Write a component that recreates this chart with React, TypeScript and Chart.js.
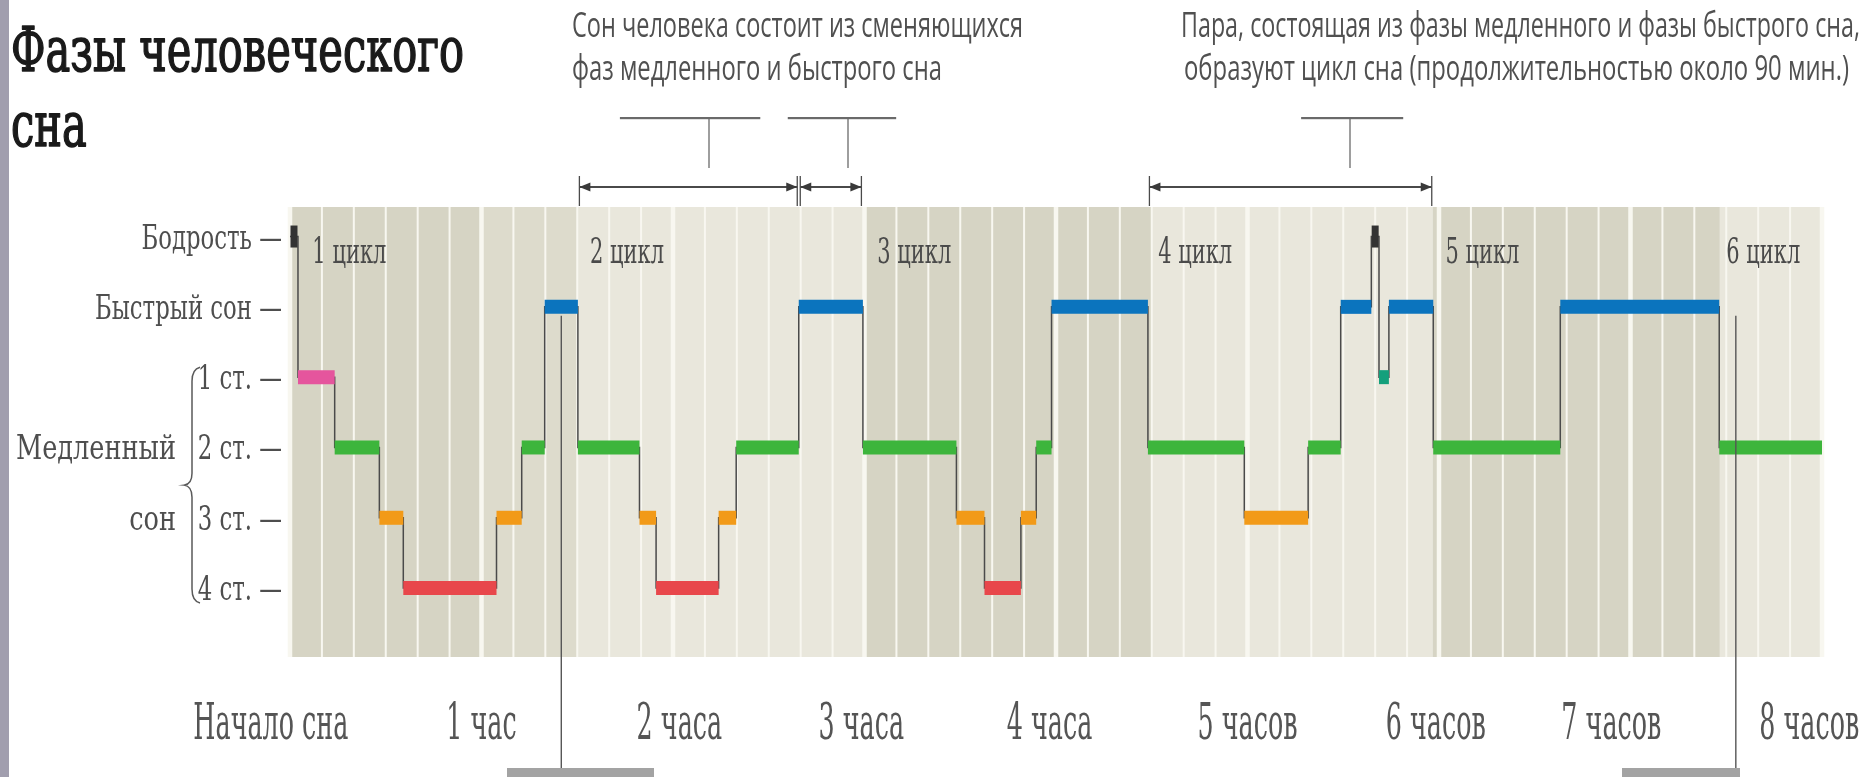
import React, { useEffect, useRef } from "react";
import { Chart, registerables } from "chart.js";

Chart.register(...registerables);

// ---------------- data ----------------
// level on the vertical scale: 5 = wake, 4 = REM, 3..0 = NREM stage 1..4
const stageLevel: Record<string, number> = { W: 5, REM: 4, N1: 3, N1b: 3, N2: 2, N3: 1, N4: 0 };
const stageColor: Record<string, string> = {
  W: "#333333",
  REM: "#0b74be",
  N1: "#e5559d",
  N1b: "#14a07c",
  N2: "#3db53c",
  N3: "#f29a18",
  N4: "#e8474b",
};

// start minute of each stage segment (sleep lasts 0..480 min)
const segmentStarts = [
  0, 2.5, 14, 28, 35.5, 64.7, 72.6, 79.8,
  90.2, 109.5, 114.7, 134.3, 139.8, 159.4,
  179.5, 208.8, 217.6, 229, 233.8, 238.6,
  268.8, 299, 319, 329.2, 338.8, 341.2, 344.3,
  358.2, 398, 447.8,
];
const segmentStages = [
  "W", "N1", "N2", "N3", "N4", "N3", "N2", "REM",
  "N2", "N3", "N4", "N3", "N2", "REM",
  "N2", "N3", "N4", "N3", "N2", "REM",
  "N2", "N3", "N2", "REM", "W", "N1b", "REM",
  "N2", "REM", "N2",
];
const sleepEndMinute = 480;

const levelLabels = ["4 ст. —", "3 ст. —", "2 ст. —", "1 ст. —", "Быстрый сон —", "Бодрость —"];
const hourLabels = ["Начало сна", "1 час", "2 часа", "3 часа", "4 часа", "5 часов", "6 часов", "7 часов", "8 часов"];
const hourLabelMinutes = [-6, 60, 122, 179, 238, 300, 359, 414, 476];
const cycleLabels = ["1 цикл", "2 цикл", "3 цикл", "4 цикл", "5 цикл", "6 цикл"];
const cycleLabelMinutes = [7, 94, 184, 272, 362, 450];

const shadeEdges = [0, 60, 90, 180, 270, 358, 448, 480];
const shadeTones = ["dark", "mid", "light", "dark", "light", "dark", "light"];

const spanArrows = [
  [90.2, 159.4],
  [159.4, 179.5],
  [268.8, 358.2],
];
const calloutMinutes = [85, 453];

const titleLines = ["Фазы человеческого", "сна"];
const slowSleepLabel = ["Медленный", "сон"];
const note1 = ["Сон человека состоит из сменяющихся", "фаз медленного и быстрого сна"];
const note2 = [
  "Пара, состоящая из фазы медленного и фазы быстрого сна,",
  "образуют цикл сна (продолжительностью около 90 мин.)",
];

// ---------------- helpers ----------------
const SERIF = "'DejaVu Serif', 'Liberation Serif', serif";
const SANS = "'Open Sans', 'Noto Sans', sans-serif";
const toneColor: Record<string, string> = { dark: "#d6d4c4", mid: "#dddbcc", light: "#e9e7dc" };

function measure(ctx: CanvasRenderingContext2D, text: string, font: string) {
  ctx.font = font;
  return ctx.measureText(text).width;
}

function drawText(
  ctx: CanvasRenderingContext2D,
  text: string,
  x: number,
  y: number,
  font: string,
  sx: number,
  color: string,
  align: "left" | "right" | "center" = "left",
  strokeW = 0
) {
  ctx.save();
  ctx.font = font;
  ctx.fillStyle = color;
  ctx.textBaseline = "alphabetic";
  ctx.textAlign = "left";
  const w = ctx.measureText(text).width * sx;
  const left = align === "left" ? x : align === "right" ? x - w : x - w / 2;
  ctx.translate(left, y);
  ctx.scale(sx, 1);
  ctx.fillText(text, 0, 0);
  if (strokeW > 0) {
    ctx.strokeStyle = color;
    ctx.lineWidth = strokeW;
    ctx.lineJoin = "round";
    ctx.strokeText(text, 0, 0);
  }
  ctx.restore();
  return { left, width: w };
}

function underlineWord(
  ctx: CanvasRenderingContext2D,
  line: string,
  word: string,
  left: number,
  font: string,
  sx: number,
  y: number
) {
  const idx = line.indexOf(word);
  const x0 = left + measure(ctx, line.slice(0, idx), font) * sx;
  const w = measure(ctx, word, font) * sx;
  ctx.fillRect(x0, y - 1, w, 2.2);
}

function arrowHead(ctx: CanvasRenderingContext2D, x: number, y: number, dir: number) {
  ctx.beginPath();
  ctx.moveTo(x, y);
  ctx.lineTo(x - dir * 11, y - 4.5);
  ctx.lineTo(x - dir * 11, y + 4.5);
  ctx.closePath();
  ctx.fill();
}

// ---------------- datasets ----------------
const segEnd = (i: number) => (i + 1 < segmentStarts.length ? segmentStarts[i + 1] : sleepEndMinute);

const connectorPoints = segmentStarts.map((s, i) => ({ x: s, y: stageLevel[segmentStages[i]] }));
connectorPoints.push({ x: sleepEndMinute, y: stageLevel[segmentStages[segmentStages.length - 1]] });

const barPoints: { x: number; y: number | null }[] = [];
const barColors: string[] = [];
segmentStarts.forEach((s, i) => {
  const st = segmentStages[i];
  if (st === "W") return;
  const y = stageLevel[st];
  const e = segEnd(i);
  barPoints.push({ x: s, y }, { x: e, y }, { x: e, y: null });
  barColors.push(stageColor[st]);
});

const wakePoints = segmentStarts
  .map((s, i) => ({ s, i }))
  .filter(({ i }) => segmentStages[i] === "W")
  .map(({ s, i }) => ({ x: (s + segEnd(i)) / 2, y: stageLevel.W }));

// ---------------- plugin ----------------
const decor = {
  id: "decor",
  beforeDatasetsDraw(chart: any) {
    const { ctx, chartArea: a } = chart;
    const x = chart.scales.x;
    ctx.save();
    shadeTones.forEach((t, i) => {
      const x0 = x.getPixelForValue(shadeEdges[i]);
      const x1 = x.getPixelForValue(shadeEdges[i + 1]);
      ctx.fillStyle = toneColor[t];
      ctx.fillRect(x0, a.top, x1 - x0, a.bottom - a.top);
    });
    for (let m = 0; m <= sleepEndMinute; m += 10) {
      const px = x.getPixelForValue(m);
      const w = m % 60 === 0 ? 4.5 : 2;
      ctx.fillStyle = "#f8f7f0";
      ctx.fillRect(px - w / 2, a.top, w, a.bottom - a.top);
    }
    ctx.restore();
  },
  afterDraw(chart: any) {
    const { ctx } = chart;
    const x = chart.scales.x;
    const y = chart.scales.y;
    ctx.save();

    // left page strip
    ctx.fillStyle = "#a19eae";
    ctx.fillRect(0, 0, 9, chart.height);

    // title
    const tFont = `62px ${SERIF}`;
    const tsx = 453 / measure(ctx, titleLines[0], tFont);
    drawText(ctx, titleLines[0], 11, 71, tFont, tsx, "#1a1a1a", "left", 1.6);
    drawText(ctx, titleLines[1], 11, 146, tFont, tsx, "#1a1a1a", "left", 1.6);

    // annotations
    const aFont = `34px ${SANS}`;
    const grey = "#505050";
    const fit = (t: string, w: number) => w / measure(ctx, t, aFont);
    const s11 = fit(note1[0], 451);
    const s12 = fit(note1[1], 370);
    const s21 = fit(note2[0], 679);
    const s22 = fit(note2[1], 665);
    drawText(ctx, note1[0], 572, 37, aFont, s11, grey);
    const l12 = drawText(ctx, note1[1], 572, 80, aFont, s12, grey);
    drawText(ctx, note2[0], 1181, 37, aFont, s21, grey);
    const l22 = drawText(ctx, note2[1], 1184, 80, aFont, s22, grey);

    ctx.fillStyle = "#6a6a6a";
    underlineWord(ctx, note1[1], "медленного", l12.left, aFont, s12, 118);
    underlineWord(ctx, note1[1], "быстрого", l12.left, aFont, s12, 118);
    underlineWord(ctx, note2[1], "цикл сна", l22.left, aFont, s22, 118);

    ctx.strokeStyle = "#6a6a6a";
    ctx.lineWidth = 1.3;
    [709, 848, 1350].forEach((px) => {
      ctx.beginPath();
      ctx.moveTo(px, 119);
      ctx.lineTo(px, 168);
      ctx.stroke();
    });

    // dimension arrows
    ctx.strokeStyle = "#4a4a4a";
    ctx.fillStyle = "#3a3a3a";
    spanArrows.forEach(([m0, m1]) => {
      const x0 = x.getPixelForValue(m0) + 1.5;
      const x1 = x.getPixelForValue(m1) - 1.5;
      ctx.lineWidth = 2;
      ctx.beginPath();
      ctx.moveTo(x0, 187);
      ctx.lineTo(x1, 187);
      ctx.stroke();
      arrowHead(ctx, x0, 187, -1);
      arrowHead(ctx, x1, 187, 1);
      ctx.lineWidth = 1.3;
      [x0, x1].forEach((px) => {
        ctx.beginPath();
        ctx.moveTo(px, 176);
        ctx.lineTo(px, 206);
        ctx.stroke();
      });
    });

    // y labels
    const yFont = `34px ${SERIF}`;
    const ysx = 187 / measure(ctx, levelLabels[4], yFont);
    levelLabels.forEach((lab, lvl) => {
      drawText(ctx, lab, 282, y.getPixelForValue(lvl) + 12, yFont, ysx, "#4e4e4e", "right");
    });
    const msx = 160 / measure(ctx, slowSleepLabel[0], yFont);
    drawText(ctx, slowSleepLabel[0], 176, y.getPixelForValue(2) + 12, yFont, msx, "#4e4e4e", "right");
    drawText(ctx, slowSleepLabel[1], 176, y.getPixelForValue(1) + 12, yFont, msx, "#4e4e4e", "right");

    // brace
    const bt = y.getPixelForValue(3) - 10;
    const bb = y.getPixelForValue(0) + 15;
    const bm = (bt + bb) / 2;
    ctx.strokeStyle = "#5a5a5a";
    ctx.lineWidth = 1.5;
    ctx.beginPath();
    ctx.moveTo(200, bt);
    ctx.quadraticCurveTo(192, bt + 2, 192, bt + 14);
    ctx.lineTo(192, bm - 12);
    ctx.quadraticCurveTo(192, bm - 1, 184, bm);
    ctx.quadraticCurveTo(192, bm + 1, 192, bm + 12);
    ctx.lineTo(192, bb - 14);
    ctx.quadraticCurveTo(192, bb - 2, 200, bb);
    ctx.stroke();

    // cycle labels
    const cFont = `36px ${SERIF}`;
    const csx = 74 / measure(ctx, cycleLabels[0], cFont);
    cycleLabels.forEach((lab, i) => {
      drawText(ctx, lab, x.getPixelForValue(cycleLabelMinutes[i]), 263, cFont, csx, "#4a4a4a");
    });

    // x labels
    const xFont = `50px ${SERIF}`;
    const xsx = 155 / measure(ctx, hourLabels[0], xFont);
    hourLabels.forEach((lab, i) => {
      drawText(ctx, lab, x.getPixelForValue(hourLabelMinutes[i]), 739, xFont, xsx, "#555555", "center");
    });

    // callout leaders
    ctx.strokeStyle = "#555555";
    ctx.lineWidth = 1.4;
    calloutMinutes.forEach((m) => {
      const px = x.getPixelForValue(m);
      ctx.beginPath();
      ctx.moveTo(px, y.getPixelForValue(stageLevel.REM) + 9);
      ctx.lineTo(px, chart.height);
      ctx.stroke();
    });
    ctx.fillStyle = "#a3a3a3";
    ctx.fillRect(507, 768, 147, 9);
    ctx.fillRect(1622, 768, 118, 9);

    ctx.restore();
  },
};

export default function App() {
  const ref = useRef<HTMLCanvasElement>(null);
  useEffect(() => {
    const canvas = ref.current!;
    const chart = new Chart(canvas, {
      type: "line",
      data: {
        datasets: [
          {
            label: "переходы",
            data: connectorPoints as any,
            borderColor: "#4a4a4a",
            borderWidth: 1.5,
            stepped: "before",
            pointRadius: 0,
            order: 3,
          },
          {
            label: "фазы",
            data: barPoints as any,
            borderColor: "#3db53c",
            borderWidth: 14,
            borderCapStyle: "butt",
            spanGaps: false,
            pointRadius: 0,
            order: 2,
            segment: {
              borderColor: (c: any) => barColors[Math.floor(c.p0DataIndex / 3)],
            },
          } as any,
          {
            label: "бодрость",
            data: wakePoints as any,
            showLine: false,
            pointStyle: "line",
            pointRotation: 90,
            pointRadius: 11,
            pointBorderWidth: 7,
            pointBorderColor: stageColor.W,
            pointBackgroundColor: stageColor.W,
            order: 1,
          },
        ],
      },
      options: {
        responsive: false,
        devicePixelRatio: 1,
        animation: false,
        events: [],
        layout: { padding: { left: 290, right: 48, top: 207, bottom: 120 } },
        scales: {
          x: { type: "linear", min: 0, max: sleepEndMinute, display: false },
          y: { type: "linear", min: -0.98, max: 5.42, display: false },
        },
        plugins: { legend: { display: false }, tooltip: { enabled: false } },
      },
      plugins: [decor],
    });
    return () => chart.destroy();
  }, []);
  return (
    <div style={{ position: "absolute", left: 0, top: 0, width: 1870, height: 777, background: "#ffffff" }}>
      <canvas ref={ref} width={1870} height={777} style={{ display: "block", width: 1870, height: 777 }} />
    </div>
  );
}
